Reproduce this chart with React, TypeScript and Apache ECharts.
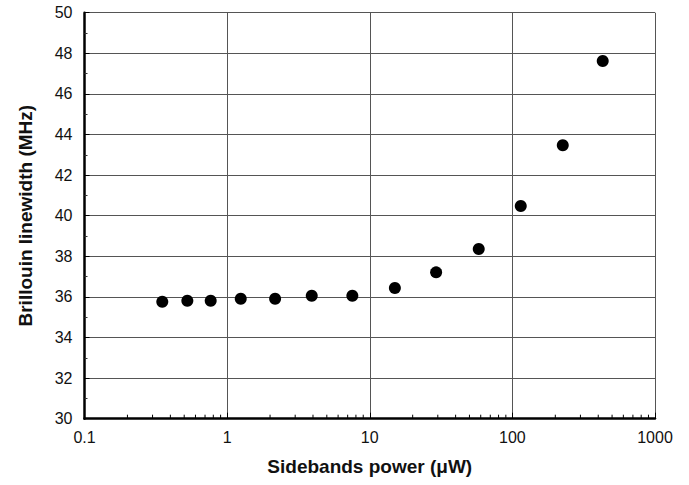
import React, { useEffect, useRef } from "react";
import * as echarts from "echarts";

const powerUW = [0.351, 0.526, 0.767, 1.246, 2.17, 3.92, 7.55, 15.0, 29.2, 58.1, 114.5, 225.6, 430];
const linewidthMHz = [35.76, 35.81, 35.81, 35.91, 35.91, 36.06, 36.06, 36.44, 37.21, 38.36, 40.48, 43.47, 47.62];
const xMinorTicks = [0.2, 0.3, 0.4, 0.5, 0.6, 0.7, 0.8, 0.9, 2, 3, 4, 5, 6, 7, 8, 9, 20, 30, 40, 50, 60, 70, 80, 90, 200, 300, 400, 500, 600, 700, 800, 900];
const xTickLabels: Record<string, string> = { "0.1": "0.1", "1": "1", "10": "10", "100": "100", "1000": "1000" };

export default function App() {
  const ref = useRef<HTMLDivElement>(null);
  useEffect(() => {
    if (!ref.current) return;
    const chart = echarts.init(ref.current, null, { renderer: "svg" });
    const font = "Liberation Sans, Arial, Helvetica, sans-serif";
    chart.setOption({
      animation: false,
      backgroundColor: "#fff",
      grid: { left: 84.5, right: 34, top: 12.7, bottom: 66.3 },
      xAxis: {
        type: "log",
        logBase: 10,
        min: 0.1,
        max: 1000,
        name: "Sidebands power (μW)",
        nameLocation: "middle",
        nameGap: 38,
        nameTextStyle: { fontFamily: font, fontSize: 19, fontWeight: "bold", color: "#111" },
        axisLine: { show: true, lineStyle: { color: "#000", width: 2.5 } },
        axisTick: { show: true, inside: true, length: 6, lineStyle: { color: "#000" } },
        axisLabel: {
          fontFamily: font,
          fontSize: 16,
          color: "#111",
          margin: 11,
          formatter: (v: number) => {
            const key = String(Math.round(v * 10) / 10);
            return xTickLabels[key] ?? key;
          },
        },
        splitLine: { show: true, lineStyle: { color: "#555", width: 1 } },
      },
      yAxis: {
        type: "value",
        min: 30,
        max: 50,
        interval: 2,
        name: "Brillouin linewidth (MHz)",
        nameLocation: "middle",
        nameGap: 50,
        nameRotate: 90,
        nameTextStyle: { fontFamily: font, fontSize: 19, fontWeight: "bold", color: "#111" },
        axisLine: { show: true, lineStyle: { color: "#000", width: 2.5 } },
        axisTick: { show: true, inside: true, length: 5, lineStyle: { color: "#000" } },
        minorTick: { show: true, splitNumber: 2, length: 3, lineStyle: { color: "#333" } },
        axisLabel: { fontFamily: font, fontSize: 16, color: "#111", margin: 12 },
        splitLine: { show: true, lineStyle: { color: "#555", width: 1 } },
      },
      series: [
        {
          type: "custom",
          silent: true,
          data: xMinorTicks.map((v) => [v, 30]),
          renderItem: (params: any, api: any) => {
            const p = api.coord([api.value(0), api.value(1)]);
            return {
              type: "line",
              shape: { x1: p[0], y1: p[1], x2: p[0], y2: p[1] - 4 },
              style: { stroke: "#000", lineWidth: 1 },
            };
          },
          z: 1,
        },
        {
          type: "scatter",
          data: powerUW.map((x, i) => [x, linewidthMHz[i]]),
          symbol: "circle",
          symbolSize: 12,
          itemStyle: { color: "#000", opacity: 1 },
          z: 3,
        },
      ],
    });
    return () => chart.dispose();
  }, []);
  return <div ref={ref} style={{ width: 689, height: 485, position: "absolute", left: 0, top: 0 }} />;
}
